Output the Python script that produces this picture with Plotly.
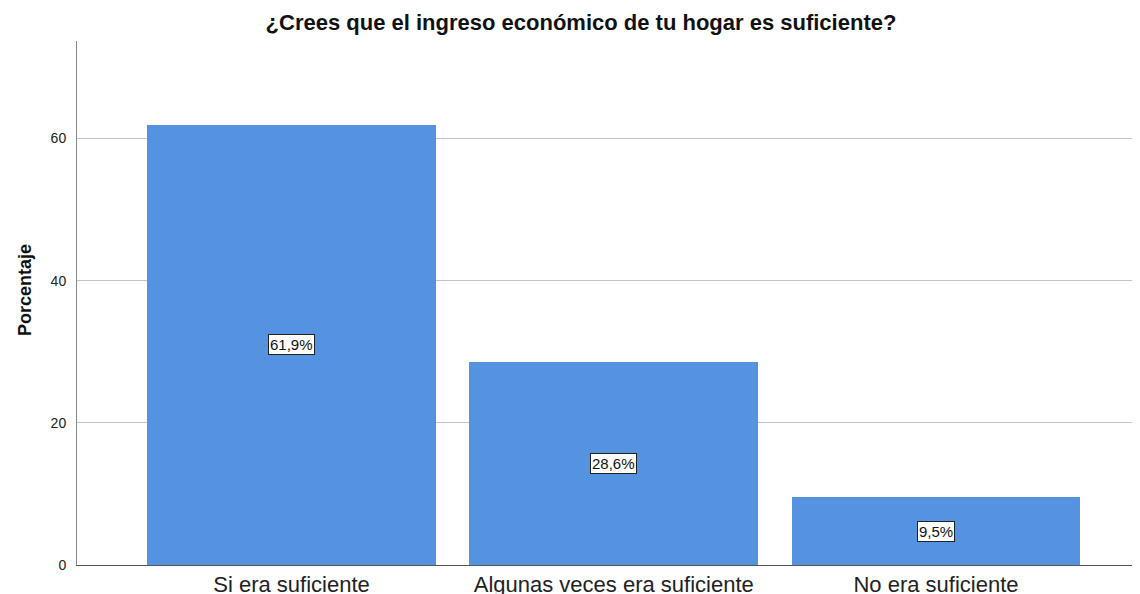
import plotly.graph_objects as go

categories = ["Si era suficiente", "Algunas veces era suficiente", "No era suficiente"]
porcentaje = [61.9, 28.6, 9.5]
etiquetas = ["61,9%", "28,6%", "9,5%"]
y_ticks = [0, 20, 40, 60]

BAR_COLOR = "#5592e0"
FONT = "Liberation Sans, Arial, sans-serif"

xpos = list(range(len(categories)))

# the page body adds an 8 px margin at top/left, so shrink the figure to match the window
W, H = 1132, 586

fig = go.Figure()
fig.add_trace(
    go.Bar(
        x=xpos,
        y=porcentaje,
        width=0.896,
        marker=dict(color=BAR_COLOR, line=dict(width=0)),
        hoverinfo="skip",
        showlegend=False,
    )
)

# value labels in white boxes at mid-height of each bar
for i, (v, lab) in enumerate(zip(porcentaje, etiquetas)):
    fig.add_annotation(
        x=i,
        y=v / 2,
        text=lab,
        showarrow=False,
        font=dict(family=FONT, size=15, color="#111111"),
        bgcolor="white",
        bordercolor="#222222",
        borderwidth=1,
        borderpad=1,
    )

fig.add_annotation(
    text="<b>Porcentaje</b>",
    xref="paper",
    yref="paper",
    x=0,
    y=0.5,
    xshift=-64,
    yshift=13,
    textangle=-90,
    showarrow=False,
    font=dict(family=FONT, size=18, color="#111111"),
)

fig.update_layout(
    width=W,
    height=H,
    margin=dict(l=69, r=0, t=33, b=29),
    paper_bgcolor="white",
    plot_bgcolor="white",
    title=dict(
        text="<b>¿Crees que el ingreso económico de tu hogar es suficiente?</b>",
        x=573 / W,
        xanchor="center",
        y=1 - 14 / H,
        yanchor="middle",
        yref="container",
        font=dict(family=FONT, size=22, color="#111111"),
    ),
    bargap=0,
)
fig.update_xaxes(
    range=[-0.6656, 2.633],
    tickvals=xpos,
    ticktext=categories,
    automargin=False,
    showgrid=False,
    zeroline=False,
    showline=True,
    linecolor="#555555",
    linewidth=1,
    ticks="",
    ticklabelstandoff=0,
    tickfont=dict(family=FONT, size=22, color="#222222"),
)
fig.update_yaxes(
    range=[0, 73.7],
    tickvals=y_ticks,
    automargin=False,
    showgrid=True,
    gridcolor="#c4c4c4",
    gridwidth=1,
    zeroline=False,
    showline=True,
    linecolor="#888888",
    linewidth=1,
    ticks="",
    ticklabelstandoff=7,
    tickfont=dict(family=FONT, size=14, color="#222222"),
)

fig.write_html("out.html")
